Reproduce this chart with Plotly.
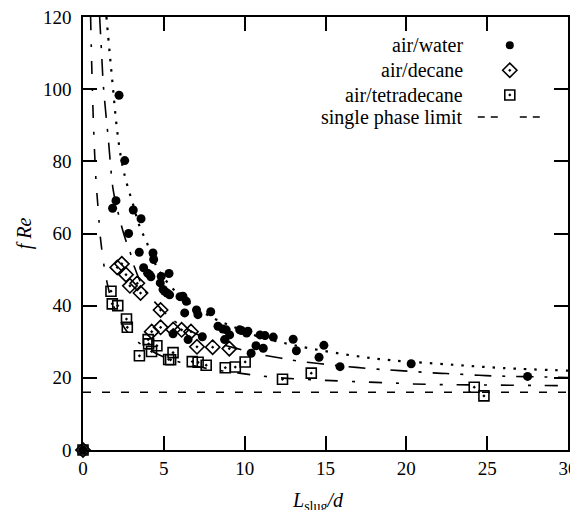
import plotly.graph_objects as go

# ---- data ----
water_x = [0, 1.83, 2.04, 2.23, 2.58, 2.82, 3.11, 3.59, 3.48, 4.33, 4.37, 3.75, 4.0, 4.2,
           4.12, 4.84, 5.32, 4.78, 4.95, 5.05, 5.2, 5.36, 6.0, 6.18, 6.39, 7.02, 7.9,
           6.29, 7.11, 8.35, 8.65, 8.86, 9.07, 8.76, 9.69, 10.2, 7.38, 6.5, 5.57,
           10.7, 11.15, 10.4, 9.81, 10.12, 10.95, 11.26, 11.77, 13.0, 13.2, 14.9,
           14.6, 15.9, 20.3, 27.5]
water_y = [0, 67.0, 69.1, 98.3, 80.2, 60.0, 66.5, 64.1, 54.8, 54.6, 52.8, 50.5, 49.0, 48.0,
           48.6, 48.1, 48.9, 46.3, 44.5, 44.0, 43.5, 43.0, 42.5, 42.6, 41.2, 38.8, 38.3,
           38.0, 37.5, 34.3, 33.5, 33.3, 31.9, 30.6, 33.3, 32.9, 31.4, 30.6, 32.2,
           28.9, 28.2, 26.8, 33.1, 32.4, 31.9, 31.7, 31.3, 30.7, 27.5, 29.0,
           25.7, 23.1, 23.9, 20.4]

decane_x = [0, 2.12, 2.4, 2.66, 2.9, 3.36, 3.56, 4.8, 4.25, 4.8, 5.58, 6.1, 6.68, 7.05, 8.02, 9.05]
decane_y = [0, 50.6, 51.6, 48.6, 45.5, 46.2, 43.5, 38.8, 32.8, 34.0, 33.4, 33.3, 32.8, 28.6, 28.5, 28.1]

tetra_x = [0, 1.73, 1.81, 2.15, 2.69, 2.74, 3.49, 4.03, 4.06, 4.24, 4.57, 5.3, 5.42, 5.57,
           6.76, 7.12, 7.62, 8.8, 9.42, 10.03, 12.34, 14.12, 24.2, 24.8]
tetra_y = [0, 44.0, 40.5, 40.0, 36.3, 34.0, 26.1, 30.6, 29.4, 27.3, 28.9, 25.1, 25.0, 27.0,
           24.5, 24.3, 23.5, 22.8, 23.0, 24.4, 19.6, 21.3, 17.4, 15.0]

# fitted curves
fit_water_x = [1.45, 1.65, 1.86, 2.1, 2.39, 2.7, 3.1, 3.5, 3.9, 4.6, 5.5, 6.5, 7.5, 8.3,
               9.5, 11, 12.3, 14, 16.8, 19, 23, 26, 30]
fit_water_y = [120, 110, 100, 89, 80, 74, 68, 62, 58, 50.5, 45, 41, 38, 36,
               33.8, 31.2, 29.8, 28.2, 26.1, 24.9, 23.6, 22.7, 22.0]

fit_decane_x = [1.03, 1.15, 1.26, 1.57, 1.87, 2.16, 2.58, 2.9, 3.2, 3.8, 4.4, 5.4, 6.0, 7.3,
                8.35, 9.7, 10.5, 12.2, 13.2, 14.7, 15.9, 16.9, 18.2, 19.6, 21.9, 22.9,
                24.5, 25.6, 29.1, 30]
fit_decane_y = [120, 110, 101, 86, 72, 66, 59, 55, 50.5, 44.4, 41.2, 36.6, 34.7, 31.5,
                29.6, 27.9, 26.9, 25.5, 24.7, 23.9, 23.3, 22.9, 22.4, 22.0, 21.3, 21.1,
                20.7, 20.5, 20.2, 20.1]

fit_tetra_x = [0.47, 0.55, 0.65, 0.8, 0.95, 1.05, 1.26, 1.46, 1.8, 2.29, 2.7, 3.3, 4.1, 4.9,
               6, 7, 8.2, 9, 10, 10.84, 12.2, 13.6, 15, 17.1, 19, 20.4, 22.5, 25.3, 27.9, 30]
fit_tetra_y = [120, 105, 90, 75, 66, 60, 52.3, 47, 41, 36.1, 33, 30.3, 27.8, 26,
               24.3, 23.2, 22.2, 21.7, 21.1, 20.6, 20, 19.6, 19.3, 18.9, 18.6, 18.3, 18.1,
               18.0, 17.9, 17.8]

single_phase_x = [0, 30]
single_phase_y = [16, 16]

legend_labels = ["air/water", "air/decane", "air/tetradecane", "single phase limit"]

x_ticks = [0, 5, 10, 15, 20, 25, 30]
y_ticks = [0, 20, 40, 60, 80, 100, 120]

FONT = "Liberation Serif"
BLACK = "black"

fig = go.Figure()

fig.add_trace(go.Scatter(x=single_phase_x, y=single_phase_y, mode="lines",
                         line=dict(color=BLACK, width=1.6, dash="8px,11px"),
                         showlegend=False))
fig.add_trace(go.Scatter(x=fit_water_x, y=fit_water_y, mode="lines", line_shape="spline",
                         line=dict(color=BLACK, width=2.2, dash="2.5px,8px"), showlegend=False))
fig.add_trace(go.Scatter(x=fit_decane_x, y=fit_decane_y, mode="lines", line_shape="spline",
                         line=dict(color=BLACK, width=1.6, dash="17px,11px,3px,11px"),
                         showlegend=False))
fig.add_trace(go.Scatter(x=fit_tetra_x, y=fit_tetra_y, mode="lines", line_shape="spline",
                         line=dict(color=BLACK, width=1.6, dash="13px,14px,3px,14px"),
                         showlegend=False))

fig.add_trace(go.Scatter(x=water_x, y=water_y, mode="markers", cliponaxis=False,
                         marker=dict(symbol="circle", size=9, color=BLACK),
                         showlegend=False))
fig.add_trace(go.Scatter(x=decane_x, y=decane_y, mode="markers", cliponaxis=False,
                         marker=dict(symbol="diamond-open-dot", size=11, color=BLACK,
                                     line=dict(width=1.6, color=BLACK)),
                         showlegend=False))
fig.add_trace(go.Scatter(x=tetra_x, y=tetra_y, mode="markers", cliponaxis=False,
                         marker=dict(symbol="square-open-dot", size=10, color=BLACK,
                                     line=dict(width=1.6, color=BLACK)),
                         showlegend=False))

# ---- custom legend (text left, key right), drawn on a hidden 0..1 overlay axis ----
key_x = 0.880
key_ys = [0.935, 0.877, 0.820, 0.769]
fig.add_trace(go.Scatter(x=[key_x], y=[key_ys[0]], xaxis="x2", yaxis="y2", mode="markers",
                         marker=dict(symbol="circle", size=8, color=BLACK), showlegend=False))
fig.add_trace(go.Scatter(x=[key_x], y=[key_ys[1]], xaxis="x2", yaxis="y2", mode="markers",
                         marker=dict(symbol="diamond-open-dot", size=11, color=BLACK,
                                     line=dict(width=1.6, color=BLACK)), showlegend=False))
fig.add_trace(go.Scatter(x=[key_x], y=[key_ys[2]], xaxis="x2", yaxis="y2", mode="markers",
                         marker=dict(symbol="square-open-dot", size=10, color=BLACK,
                                     line=dict(width=1.6, color=BLACK)), showlegend=False))
fig.add_trace(go.Scatter(x=[0.814, 0.942], y=[key_ys[3], key_ys[3]], xaxis="x2", yaxis="y2",
                         mode="lines",
                         line=dict(color=BLACK, width=1.6, dash="7px,6px,7px,22px"),
                         showlegend=False))

annotations = []
for lab, yy in zip(legend_labels, key_ys):
    annotations.append(dict(text=lab, x=0.788, y=yy, xref="paper", yref="paper",
                            xanchor="right", yanchor="middle", showarrow=False,
                            font=dict(family=FONT, size=20, color=BLACK)))
annotations.append(dict(text="<i>L</i><sub>slug</sub><i>/d</i>", x=0.485, y=-0.085,
                        xref="paper", yref="paper", xanchor="center", yanchor="top",
                        showarrow=False, font=dict(family=FONT, size=20, color=BLACK)))
annotations.append(dict(text="<i>f Re</i>", x=-0.12, y=0.5, xref="paper", yref="paper",
                        xanchor="center", yanchor="middle", textangle=-90,
                        showarrow=False, font=dict(family=FONT, size=20, color=BLACK)))

axis_common = dict(showline=True, linecolor=BLACK, linewidth=1.5, mirror="ticks",
                   ticks="inside", ticklen=14, tickwidth=1.5, tickcolor=BLACK,
                   showgrid=False, zeroline=False, automargin=False,
                   ticklabeloverflow="allow",
                   tickfont=dict(family=FONT, size=19, color=BLACK))

# the page body has an 8px margin, so the figure is 8px smaller and margins shifted
fig.update_layout(
    width=570, height=502,
    margin=dict(l=75, r=10, t=9, b=60, autoexpand=False),
    paper_bgcolor="white", plot_bgcolor="white",
    showlegend=False,
    font=dict(family=FONT, color=BLACK),
    xaxis=dict(range=[0, 30], tickvals=x_ticks, ticktext=[str(v) for v in x_ticks],
               **axis_common),
    yaxis=dict(range=[0, 120], tickvals=y_ticks, ticktext=[str(v) for v in y_ticks],
               ticklabelstandoff=6, **axis_common),
    xaxis2=dict(overlaying="x", range=[0, 1], visible=False),
    yaxis2=dict(overlaying="y", range=[0, 1], visible=False),
    annotations=annotations,
)

fig.write_html("out.html")
